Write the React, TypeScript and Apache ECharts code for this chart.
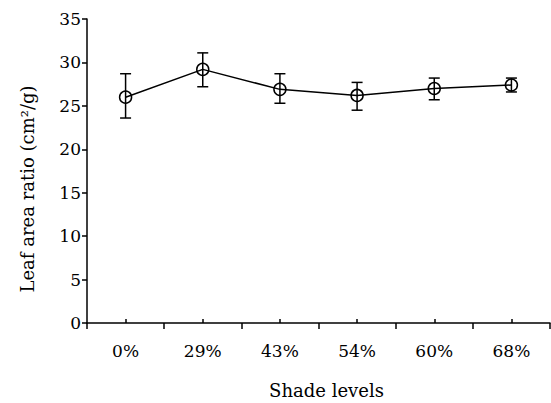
import React, { useEffect, useRef } from "react";
import * as echarts from "echarts";

const categories = ["0%", "29%", "43%", "54%", "60%", "68%"];
const means = [26.0, 29.2, 26.9, 26.2, 27.0, 27.4];
const errLow = [23.6, 27.2, 25.3, 24.5, 25.7, 26.6];
const errHigh = [28.7, 31.1, 28.7, 27.7, 28.2, 28.2];
const yMin = 0;
const yMax = 35;
const yInterval = 5;

const FONT = "DejaVu Serif";

export default function App() {
  const ref = useRef<HTMLDivElement>(null);
  useEffect(() => {
    document.body.style.margin = "0";
    const chart = echarts.init(ref.current!, null, { renderer: "svg" });
    const black = "#000";
    chart.setOption({
      animation: false,
      backgroundColor: "#fff",
      textStyle: { fontFamily: FONT },
      grid: { left: 87, right: 1, top: 19, bottom: 80, outerBoundsMode: "none" },
      xAxis: [
        {
          type: "category",
          data: categories,
          boundaryGap: true,
          position: "bottom",
          name: "Shade levels",
          nameLocation: "middle",
          nameGap: 58,
          nameTextStyle: { fontFamily: FONT, fontSize: 18, color: black, padding: [0, 0, 0, 16] },
          axisLine: { show: true, lineStyle: { color: black, width: 1.5 } },
          axisTick: { show: true, inside: false, length: 6, lineStyle: { color: black, width: 1.5 } },
          axisLabel: { fontFamily: FONT, fontSize: 17, color: black, margin: 19 },
          splitLine: { show: false },
        },
        {
          type: "category",
          data: categories,
          boundaryGap: true,
          position: "bottom",
          axisLine: { show: false },
          axisTick: { show: true, alignWithLabel: true, inside: true, length: 4, lineStyle: { color: black, width: 1.5 } },
          axisLabel: { show: false },
          splitLine: { show: false },
        },
      ],
      yAxis: {
        type: "value",
        min: yMin,
        max: yMax,
        interval: yInterval,
        name: "Leaf area ratio (cm²/g)",
        nameLocation: "middle",
        nameGap: 51,
        nameRotate: 90,
        nameTextStyle: { fontFamily: FONT, fontSize: 18, color: black, padding: [0, 36, 0, 0] },
        axisLine: { show: true, lineStyle: { color: black, width: 1.5 } },
        axisTick: { show: true, inside: false, length: 5, lineStyle: { color: black, width: 1.5 } },
        axisLabel: { fontFamily: FONT, fontSize: 17, color: black, margin: 6 },
        splitLine: { show: false },
      },
      series: [
        {
          type: "custom",
          xAxisIndex: 0,
          yAxisIndex: 0,
          z: 3,
          data: categories.map((_, i) => [i, errLow[i], errHigh[i]]),
          renderItem: (params: any, api: any) => {
            const x = api.value(0);
            const lo = api.coord([x, api.value(1)]);
            const hi = api.coord([x, api.value(2)]);
            const w = 5.5;
            const style = { stroke: black, lineWidth: 1.5 };
            return {
              type: "group",
              children: [
                { type: "line", shape: { x1: lo[0], y1: lo[1], x2: hi[0], y2: hi[1] }, style },
                { type: "line", shape: { x1: lo[0] - w, y1: lo[1], x2: lo[0] + w, y2: lo[1] }, style },
                { type: "line", shape: { x1: hi[0] - w, y1: hi[1], x2: hi[0] + w, y2: hi[1] }, style },
              ],
            };
          },
        },
        {
          type: "line",
          xAxisIndex: 0,
          yAxisIndex: 0,
          z: 4,
          data: means,
          symbol: "circle",
          symbolSize: 12,
          lineStyle: { color: black, width: 1.5 },
          itemStyle: { color: "transparent", borderColor: black, borderWidth: 1.5 },
        },
      ],
    });
    return () => chart.dispose();
  }, []);
  return <div ref={ref} style={{ width: 551, height: 403 }} />;
}
